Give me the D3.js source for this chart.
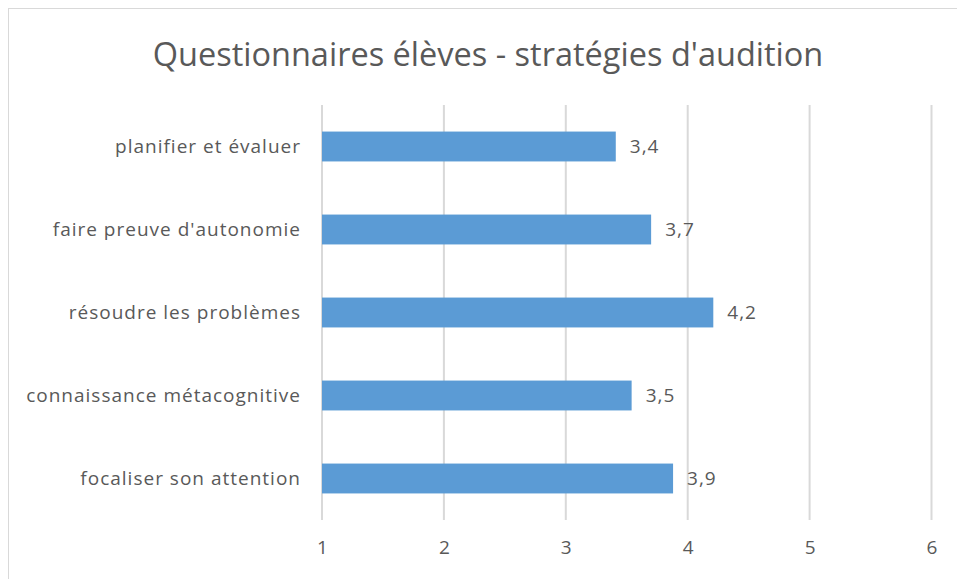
<!DOCTYPE html>
<html>
<head>
<meta charset="utf-8">
<script src="https://cdn.jsdelivr.net/npm/d3@7"></script>
<style>
    body { margin: 0; background: #fff; }
    text { font-family: "Open Sans", "Liberation Sans", sans-serif; fill: #595959; }
</style>
</head>
<body>
<div id="chart"></div>
<script>
const WIDTH = 957;
const HEIGHT = 579;
const MARGIN = { top: 105, left: 322 };

const TITLE = "Questionnaires élèves - stratégies d'audition";
const categories = [
    'planifier et évaluer',
    "faire preuve d'autonomie",
    'résoudre les problèmes',
    'connaissance métacognitive',
    'focaliser son attention',
];
const values = [3.41, 3.70, 4.21, 3.54, 3.88];
const ticks = [1, 2, 3, 4, 5, 6];

const svg = d3.select('#chart')
    .append('svg')
    .attr('width', WIDTH)
    .attr('height', HEIGHT);

// Chart frame
svg.append('rect')
    .attr('x', 8.5).attr('y', 8.5)
    .attr('width', WIDTH).attr('height', HEIGHT)
    .style('fill', '#fff')
    .style('stroke', '#d9d9d9');

svg.append('text')
    .attr('x', 488)
    .attr('y', 66)
    .style('text-anchor', 'middle')
    .style('font-size', '32.5px')
    .text(TITLE);

const g = svg.append('g')
    .attr('transform', `translate(${MARGIN.left},${MARGIN.top})`);

const x = d3.scaleLinear().domain([1, 6]).range([0, 609.5]);
const y = d3.scaleBand().domain(categories).range([0, 415]).paddingInner(0.64).paddingOuter(0.32);

// Gridlines
g.selectAll('line.grid')
    .data(ticks)
    .enter()
    .append('line')
    .attr('class', 'grid')
    .attr('x1', d => x(d)).attr('x2', d => x(d))
    .attr('y1', 0).attr('y2', 415)
    .style('stroke', '#d9d9d9')
    .style('stroke-width', 2);

// Bars
g.selectAll('rect.bar')
    .data(values)
    .enter()
    .append('rect')
    .attr('class', 'bar')
    .attr('x', x(1))
    .attr('y', (d, i) => y(categories[i]))
    .attr('width', d => x(d) - x(1))
    .attr('height', y.bandwidth())
    .style('fill', '#5b9bd5');

// Data labels
g.selectAll('text.value')
    .data(values)
    .enter()
    .append('text')
    .attr('class', 'value')
    .attr('x', d => x(d) + 14)
    .attr('y', (d, i) => y(categories[i]) + y.bandwidth() / 2)
    .attr('dy', '0.35em')
    .style('font-size', '19px')
    .style('letter-spacing', '1px')
    .text(d => d3.format('.1f')(d).replace('.', ','));

// Category labels
g.selectAll('text.cat')
    .data(categories)
    .enter()
    .append('text')
    .attr('class', 'cat')
    .attr('x', -21)
    .attr('y', d => y(d) + y.bandwidth() / 2)
    .attr('dy', '0.35em')
    .style('text-anchor', 'end')
    .style('font-size', '19px')
    .style('letter-spacing', '1px')
    .text(d => d);

// X axis labels
const xAxis = g.append('g')
    .attr('transform', 'translate(0,415)')
    .call(d3.axisBottom(x).tickValues(ticks).tickSize(0).tickPadding(21).tickFormat(d3.format('d')));
xAxis.select('.domain').remove();
xAxis.selectAll('text')
    .style('font-size', '19px')
    .style('font-family', '"Open Sans", "Liberation Sans", sans-serif')
    .attr('fill', '#595959');
</script>
</body>
</html>
